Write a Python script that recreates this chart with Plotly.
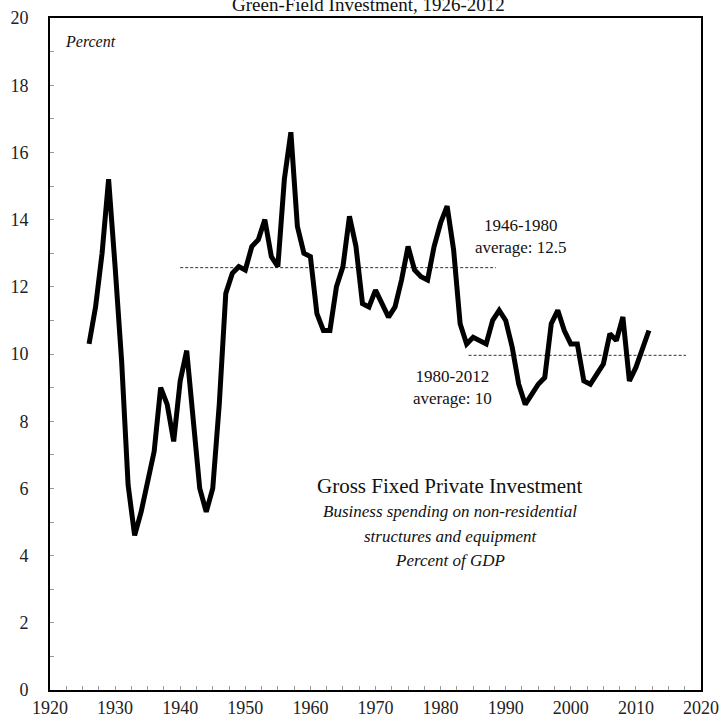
import plotly.graph_objects as go

# Gross fixed private investment (non-residential), percent of GDP
years = list(range(1926, 2013))
invest = [
    10.3, 11.4, 13.0, 15.2, 12.6, 9.8, 6.1, 4.6, 5.3, 6.2,   # 1926-1935
    7.1, 9.0, 8.5, 7.4, 9.2, 10.1, 7.9, 6.0, 5.3, 6.0,       # 1936-1945
    8.5, 11.8, 12.4, 12.6, 12.5, 13.2, 13.4, 14.0, 12.9, 12.6,  # 1946-1955
    15.2, 16.6, 13.8, 13.0, 12.9, 11.2, 10.7, 10.7, 12.0, 12.6,  # 1956-1965
    14.1, 13.2, 11.5, 11.4, 11.9, 11.5, 11.1, 11.4, 12.2, 13.2,  # 1966-1975
    12.5, 12.3, 12.2, 13.2, 13.9, 14.4, 13.1, 10.9, 10.3, 10.5,  # 1976-1985
    10.4, 10.3, 11.0, 11.3, 11.0, 10.2, 9.1, 8.5, 8.8, 9.1,     # 1986-1995
    9.3, 10.9, 11.3, 10.7, 10.3, 10.3, 9.2, 9.1, 9.4, 9.7,      # 1996-2005
    10.6, 10.4, 11.1, 9.2, 9.6, 10.2, 10.7,                    # 2006-2012
]

# period averages (as drawn) and the span of their dashed guides
avg_early_x = [1940, 1988.5]
avg_early_y = [12.57, 12.57]
avg_late_x = [1984.3, 2017.7]
avg_late_y = [9.96, 9.96]

serif = 'Liberation Serif'

fig = go.Figure()
fig.add_trace(go.Scatter(
    x = avg_early_x, y = avg_early_y, mode = 'lines',
    line = dict(color = '#333', width = 1, dash = '3px,2px'),
    showlegend = False, hoverinfo = 'skip'
))
fig.add_trace(go.Scatter(
    x = avg_late_x, y = avg_late_y, mode = 'lines',
    line = dict(color = '#333', width = 1, dash = '3px,2px'),
    showlegend = False, hoverinfo = 'skip'
))
fig.add_trace(go.Scatter(
    x = years, y = invest, mode = 'lines',
    line = dict(color = 'black', width = 5),
    showlegend = False
))

def note(x, y, text, size=16, italic=False, anchor='center'):
    fig.add_annotation(
        x = x, y = y, text = f'<i>{text}</i>' if italic else text,
        showarrow = False, xanchor = anchor,
        font = dict(family = serif, size = size, color = '#111')
    )

note(1922, 19.29, 'Percent', size=16, italic=True, anchor='left')
note(1992.3, 13.5, '1946-1980<br>average: 12.5', size=17)
note(1981.8, 8.99, '1980-2012<br>average: 10', size=17)
note(1981.5, 6.08, 'Gross Fixed Private Investment', size=21)
note(1981.5, 5.32, 'Business spending on non-residential', size=17, italic=True)
note(1981.5, 4.58, 'structures and equipment', size=17, italic=True)
note(1981.5, 3.86, 'Percent of GDP', size=17, italic=True)

fig.add_annotation(
    xref = 'paper', yref = 'paper', x = 0.49, y = 1,
    yanchor = 'bottom', yshift = 1, showarrow = False,
    text = 'Green-Field Investment, 1926-2012',
    font = dict(family = serif, size = 19, color = '#111')
)

axis_common = dict(
    showline = True, mirror = True, linecolor = 'black', linewidth = 2,
    showgrid = False, zeroline = False, automargin = False,
    ticks = 'inside', ticklen = 4, tickcolor = '#999', tickwidth = 1,
    tickfont = dict(family = serif, size = 18, color = '#222'),
)

fig.update_xaxes(
    range = [1920, 2020], dtick = 10, tick0 = 1920,
    minor = dict(dtick = 2.5, ticks = 'inside', ticklen = 4, tickcolor = '#999'),
    ticklabelstandoff = 0,
    **axis_common
)
fig.update_yaxes(
    range = [0, 20], dtick = 2, tick0 = 0,
    minor = dict(dtick = 1, ticks = 'inside', ticklen = 4, tickcolor = '#999'),
    ticklabelstandoff = 16,
    **axis_common
)

fig.update_layout(
    width = 720, height = 721,
    margin = dict(l = 50, r = 19, t = 18, b = 31),
    plot_bgcolor = 'white', paper_bgcolor = 'white',
)

# page body has a default margin; drop it so the figure sits at the window corner
fig.write_html(
    "out.html",
    config = {'displayModeBar': False},
    post_script = "document.body.style.margin = '0';"
)
